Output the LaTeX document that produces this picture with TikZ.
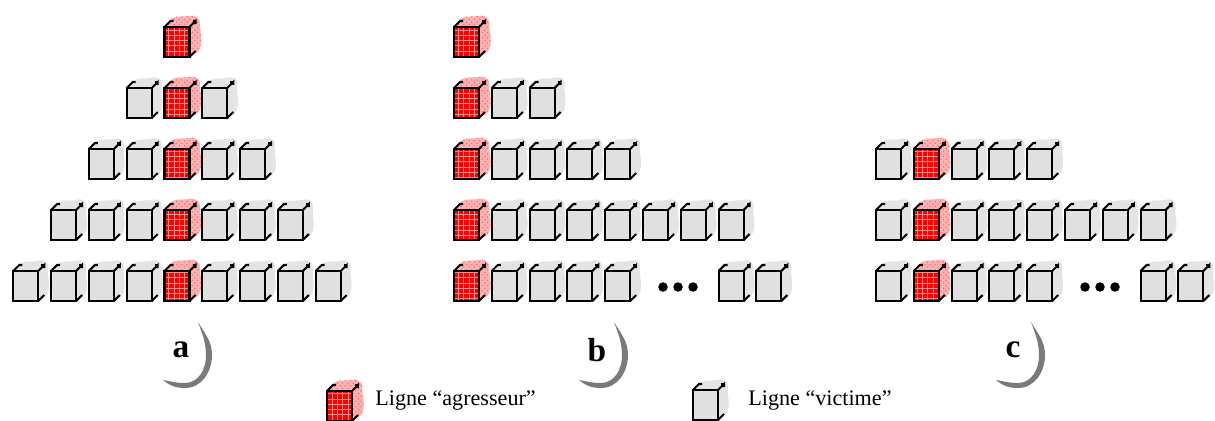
\documentclass[tikz,border=0pt]{standalone}
\usepackage{fontspec}
\setmainfont{Liberation Serif}
\usetikzlibrary{patterns}
\definecolor{vface}{HTML}{E0E0E0}
\definecolor{vshade}{HTML}{E4E4E4}
\definecolor{moon}{HTML}{7A7A7A}

\tikzset{
    cubeline/.style={line width=1.15pt, line join=miter},
    pics/victim/.style={code={
        % blob behind the box
        \fill[vshade] (3,31) .. controls (5,38) and (10,40) .. (17,39.5) .. controls (23,39) and (28,42) .. (32,40)
            .. controls (37,37) and (34,31) .. (35,25) .. controls (36,17) and (37,9) .. (32,4) -- (25,1) -- (25,30) -- cycle;
        \filldraw[cubeline, fill=vface] (0,0) rectangle (25,30);
        \draw[cubeline] (0,30) -- (6,36) -- (9,36);
        \draw[cubeline] (25,30) -- (31,36) -- (31,33);
        \draw[cubeline] (28,36) -- (31,36);
        \draw[cubeline] (25,0) -- (31,6);
    }},
    pics/aggressor/.style={code={
        \fill[red!30] (3,31) .. controls (5,39) and (10,41) .. (17,40.5) .. controls (23,40) and (28,43) .. (32,40)
            .. controls (38,37) and (34,31) .. (36,25) .. controls (37,17) and (38,9) .. (32,4) -- (25,1) -- (25,30) -- cycle;
        \fill[pattern=crosshatch dots, pattern color=red!55] (3,31) .. controls (5,39) and (10,41) .. (17,40.5) .. controls (23,40) and (28,43) .. (32,40)
            .. controls (38,37) and (34,31) .. (36,25) .. controls (37,17) and (38,9) .. (32,4) -- (25,1) -- (25,30) -- cycle;
        \fill[red] (0,0) rectangle (25,30);
        \fill[pattern=grid, pattern color=red!45] (0,0) rectangle (25,30);
        \draw[cubeline] (0,0) rectangle (25,30);
        \draw[cubeline] (0,30) -- (6,36) -- (9,36);
        \draw[cubeline] (25,30) -- (31,36) -- (31,33);
        \draw[cubeline] (28,36) -- (31,36);
        \draw[cubeline] (25,0) -- (31,6);
    }},
    dot/.style={circle, fill=black, inner sep=0pt, minimum size=0.19cm},
    tag/.style={font=\fontsize{19}{21}\selectfont\bfseries},
    legend/.style={font=\fontsize{12.6}{14}\selectfont, anchor=base west, inner sep=0pt}
}

% grey crescent to the right of a panel letter
\newcommand{\crescent}[2]{%
    \fill[moon] (#1+15,#2+32) to[out=-60,in=90] (#1+29,#2-1) to[out=-90,in=0] (#1+2,#2-34)
        to[out=180,in=-40] (#1-20,#2-26) to[out=-10,in=180] (#1+2,#2-29)
        to[out=0,in=-90] (#1+23,#2-2) to[out=90,in=-70] cycle;
}

\begin{document}
\begin{tikzpicture}[x=0.02cm, y=0.02cm]
\useasboundingbox (0,0) rectangle (1215,420);

% panel a: pyramid around the middle column
\foreach \r in {1,...,5} {
    \pgfmathtruncatemacro{\n}{\r-1}
    \foreach \k in {-\n,...,\n} {
        \ifnum\k=0
            \pic at ({164.5+37.8*\k},{363-61*(\r-1)}) {aggressor};
        \else
            \pic at ({164.5+37.8*\k},{363-61*(\r-1)}) {victim};
        \fi
    }
}

% panel b: aggressor on the left
\pic at (454,363) {aggressor};
\foreach \r/\m in {2/2, 3/4, 4/7} {
    \pic at (454,{363-61*(\r-1)}) {aggressor};
    \foreach \k in {1,...,\m}
        \pic at ({454+37.8*\k},{363-61*(\r-1)}) {victim};
}
\pic at (454,119) {aggressor};
\foreach \k in {1,2,3,4,7,8}
    \pic at ({454+37.8*\k},119) {victim};
\node[dot] (bdot1) at (663,133) {};
\node[dot] (bdot2) at (678,133) {};
\node[dot] (bdot3) at (693,133) {};

% panel c: aggressor in second column
\foreach \r/\m in {3/4, 4/7} {
    \foreach \k in {0,...,\m} {
        \ifnum\k=1
            \pic at ({876+37.8*\k},{363-61*(\r-1)}) {aggressor};
        \else
            \pic at ({876+37.8*\k},{363-61*(\r-1)}) {victim};
        \fi
    }
}
\foreach \k in {0,2,3,4,7,8}
    \pic at ({876+37.8*\k},119) {victim};
\pic at ({876+37.8},119) {aggressor};
\node[dot] (cdot1) at (1085,133) {};
\node[dot] (cdot2) at (1100,133) {};
\node[dot] (cdot3) at (1115,133) {};

% panel letters
\crescent{183}{66}
\crescent{599}{66}
\crescent{1016}{66}
\node[tag] (taga) at (181,70) {a};
\node[tag] (tagb) at (597,70) {b};
\node[tag] (tagc) at (1013,70) {c};

% legend
\pic at (327,-1) {aggressor};
\node[legend] (lagg) at (375,15) {Ligne “agresseur”};
\pic at (693,0) {victim};
\node[legend] (lvic) at (748,15) {Ligne “victime”};
\end{tikzpicture}
\end{document}
